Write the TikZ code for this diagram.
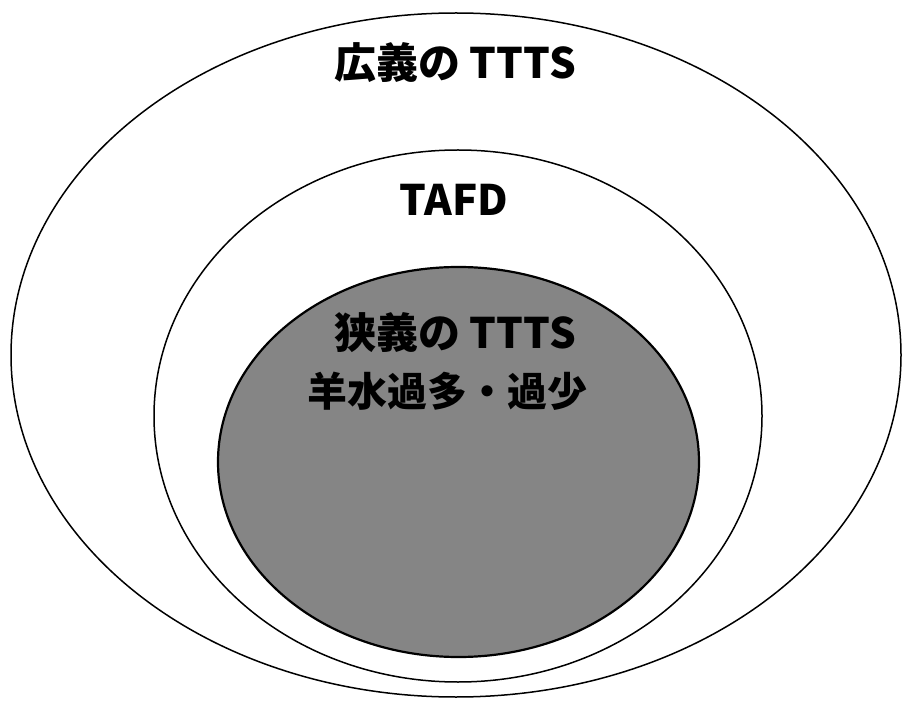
\documentclass[tikz,border=0pt]{standalone}
\usepackage{fontspec}
\newfontfamily\jp{Noto Sans CJK JP}
\usetikzlibrary{shapes.geometric}
\begin{document}
\begin{tikzpicture}[x=1pt,y=-1pt,
  ring/.style={ellipse, draw=black, line width=1.5pt, inner sep=0pt},
  lbl/.style={font=\jp\bfseries\fontsize{42}{48}\selectfont, inner sep=0pt, anchor=center}]
\useasboundingbox (0,0) rectangle (902,708);
\fill[white] (0,0) rectangle (902,708);
\node[ring, minimum width=890pt, minimum height=684pt] (outer) at (456,355) {};
\node[ring, minimum width=608pt, minimum height=532pt] (mid) at (458,416) {};
\node[ring, fill=black!48, line width=2.2pt, minimum width=481pt, minimum height=390pt] (inner) at (458.5,462) {};
\node[lbl] (wide) at (455,63) {広義の TTTS};
\node[lbl] (tafd) at (454,200) {TAFD};
\node[lbl] (narrow) at (455,333) {狭義の TTTS};
\node[lbl, font=\jp\bfseries\fontsize{40}{46}\selectfont] (poly) at (447,391) {羊水過多・過少};
\end{tikzpicture}
\end{document}
